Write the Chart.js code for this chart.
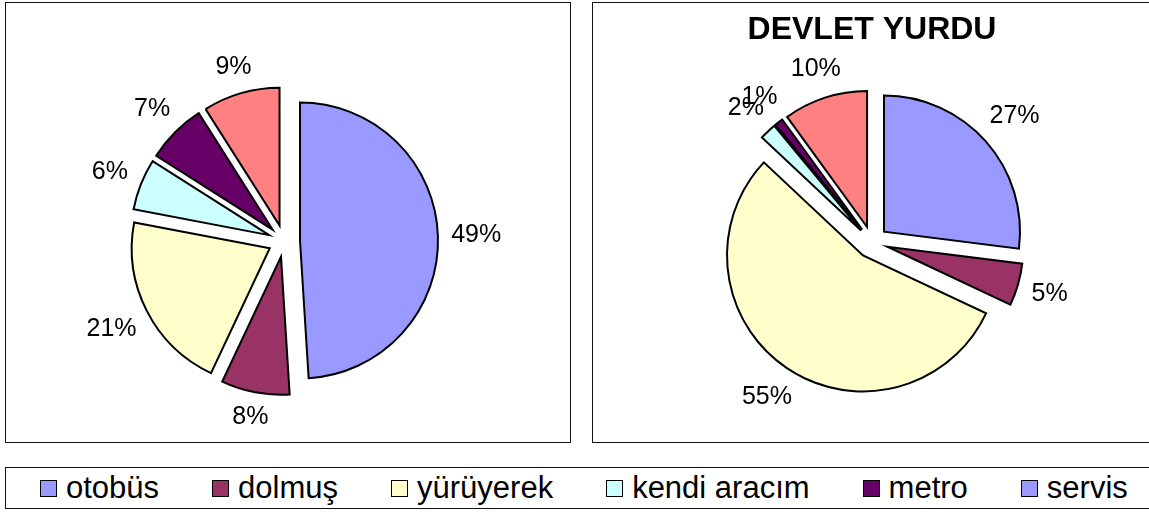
<!DOCTYPE html>
<html>
<head>
<meta charset="utf-8">
<script src="https://cdn.jsdelivr.net/npm/chart.js@4/dist/chart.umd.min.js"></script>
<style>
  html, body { margin:0; padding:0; background:#fff; }
  body { width:1149px; height:514px; overflow:hidden; position:relative; font-family:"Liberation Sans", Arial, sans-serif; }
  .box { position:absolute; border:1px solid #111; background:#fff; }
  canvas { display:block; }
  #legend { position:absolute; left:5px; top:467px; width:1170px; height:40px; border:1px solid #111;
            display:flex; align-items:center; padding-left:34px; gap:53px; box-sizing:content-box; }
  .item { display:flex; align-items:center; font-size:31px; color:#000; white-space:nowrap; }
  .sw { width:15px; height:15px; border:1px solid #000; margin-right:9px; }
</style>
</head>
<body>
<div class="box" style="left:5px;top:2px;width:564px;height:439px;"><canvas id="c1" width="564" height="439"></canvas></div>
<div class="box" style="left:592px;top:2px;width:570px;height:439px;"><canvas id="c2" width="560" height="439"></canvas></div>
<div id="legend"></div>
<script>
// ---- data ----
const categories = ['otobüs', 'dolmuş', 'yürüyerek', 'kendi aracım', 'metro', 'servis'];
const leftValues = [49, 8, 21, 6, 7, 9];
const rightValues = [27, 5, 55, 2, 1, 10];
const sliceColors = ['#9999FF', '#993366', '#FFFFCC', '#CCFFFF', '#660066', '#FF8080'];
const legendColors = ['#9999FF', '#993366', '#FFFFCC', '#CCFFFF', '#660066', '#9999FF'];
const rightTitle = 'DEVLET YURDU';

Chart.defaults.font.family = '"Liberation Sans", Arial, sans-serif';
Chart.defaults.color = '#000';

// explode every slice by translating the library's own arc elements
const explode = {
  id: 'explode',
  beforeDatasetDraw(chart, args, opts) {
    const ctx = chart.ctx;
    const d = opts.distance || 0;
    args.meta.data.forEach(arc => {
      const mid = (arc.startAngle + arc.endAngle) / 2;
      ctx.save();
      ctx.translate(Math.cos(mid) * d, Math.sin(mid) * d);
      arc.draw(ctx);
      ctx.restore();
    });
    return false;
  }
};

const pctLabels = {
  id: 'pctLabels',
  afterDatasetsDraw(chart, args, opts) {
    const meta = chart.getDatasetMeta(0);
    const ds = chart.data.datasets[0];
    const total = ds.data.reduce((a, b) => a + b, 0);
    const ctx = chart.ctx;
    ctx.save();
    ctx.font = opts.size + 'px "Liberation Sans", Arial, sans-serif';
    ctx.fillStyle = '#000';
    ctx.textAlign = 'center';
    ctx.textBaseline = 'middle';
    meta.data.forEach((arc, i) => {
      const mid = (arc.startAngle + arc.endAngle) / 2;
      const txt = Math.round(ds.data[i] / total * 100) + '%';
      const hw = ctx.measureText(txt).width / 2, hh = opts.size * 0.38;
      const c = Math.cos(mid), s = Math.sin(mid);
      const d = arc.outerRadius + opts.explode + opts.gap + Math.abs(c) * hw + Math.abs(s) * hh;
      ctx.fillText(txt, arc.x + c * d, arc.y + s * d);
    });
    ctx.restore();
  }
};

function makePie(id, values, radius, padding, title) {
  return new Chart(document.getElementById(id), {
    type: 'pie',
    data: {
      labels: categories,
      datasets: [{
        data: values,
        backgroundColor: sliceColors,
        borderColor: '#000',
        borderWidth: 2,
        borderJoinStyle: 'miter'
      }]
    },
    options: {
      responsive: false,
      animation: false,
      radius: radius,
      layout: { padding: padding },
      plugins: {
        legend: { display: false },
        tooltip: { enabled: false },
        title: title ? {
          display: true, text: title, color: '#000',
          font: { size: 32, weight: 'bold' },
          padding: { top: 8, bottom: 0 }
        } : { display: false },
        explode: { distance: 16 },
        pctLabels: { size: 25, explode: 16, gap: 13 }
      }
    },
    plugins: [explode, pctLabels]
  });
}

makePie('c1', leftValues, 138, { left: 0, right: 8, top: 37, bottom: 0 }, null);
makePie('c2', rightValues, 136, { left: 0, right: 2, top: 0, bottom: 7 }, rightTitle);

// legend
const legend = document.getElementById('legend');
categories.forEach((name, i) => {
  const it = document.createElement('div');
  it.className = 'item';
  const sw = document.createElement('span');
  sw.className = 'sw';
  sw.style.background = legendColors[i];
  it.appendChild(sw);
  it.appendChild(document.createTextNode(name));
  legend.appendChild(it);
});
</script>
</body>
</html>
